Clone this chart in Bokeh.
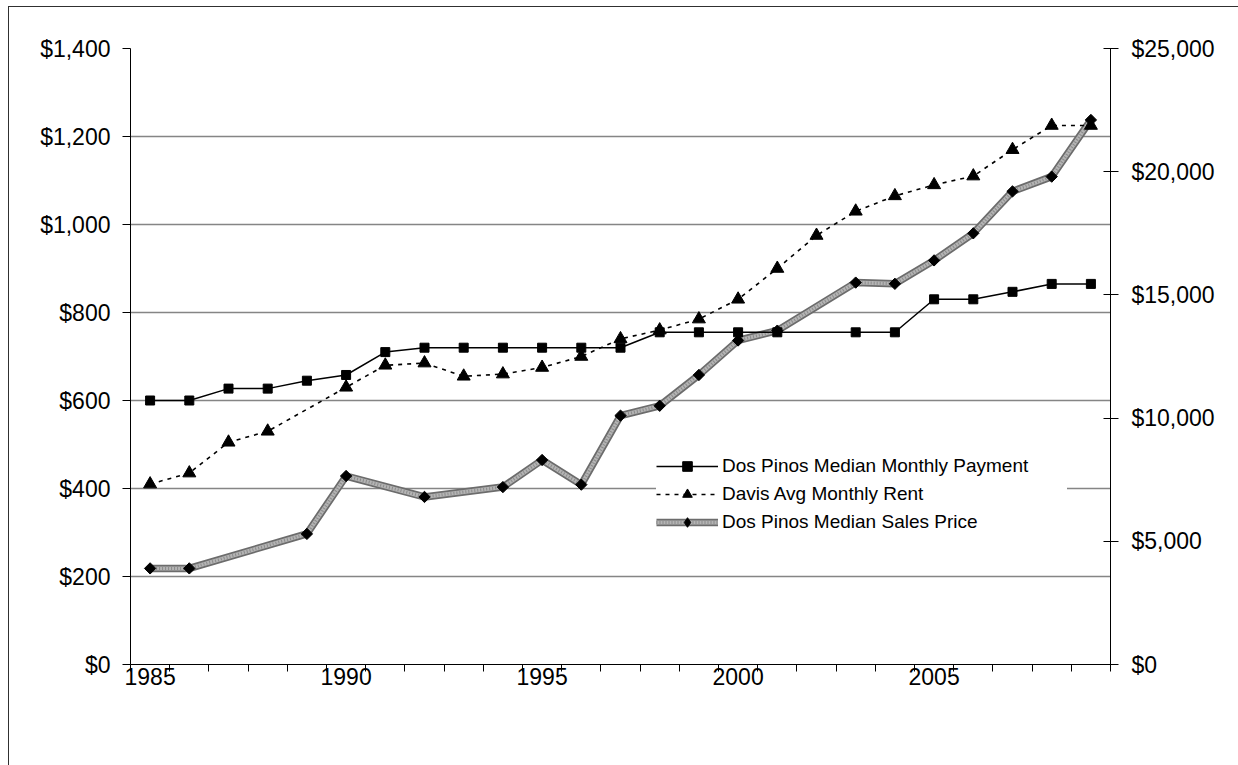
from bokeh.plotting import figure
from bokeh.models import (Range1d, LinearAxis, FixedTicker, NumeralTickFormatter,
                          Legend, LegendItem)
from bokeh.embed import file_html
from bokeh.resources import INLINE
import numpy as np

# Yearly figures, 1985-2009 (None = no value reported that year)
years = list(range(1985, 2010))
monthly_payment = [600, 600, 627, 627, 645, 658, 710, 720, 720, 720, 720, 720, 720,
                   755, 755, 755, 755, None, 755, 755, 830, 830, 847, 865, 865]
avg_rent = [410, 435, 505, 530, None, 630, 680, 685, 655, 660, 675, 700, 740,
            760, 785, 830, 900, 975, 1030, 1065, 1090, 1110, 1170, 1225, 1225]
sales_price = [3900, 3900, None, None, 5300, 7650, None, 6800, None, 7200, 8300, 7300,
               10100, 10500, 11750, 13150, 13550, None, 15500, 15450, 16400, 17500,
               19200, 19800, 22100]

left_ticks = [0, 200, 400, 600, 800, 1000, 1200, 1400]
right_ticks = [0, 5000, 10000, 15000, 20000, 25000]
year_labels = [1985, 1990, 1995, 2000, 2005]

FONT = "Liberation Sans"


def present(xs, ys):
    """Keep only the years that have a value, so the line joins across gaps."""
    pairs = [(x, y) for x, y in zip(xs, ys) if y is not None]
    return [p[0] for p in pairs], [p[1] for p in pairs]


p = figure(width=1238, height=765, output_backend="svg", toolbar_location=None,
           x_range=Range1d(1984.5, 2009.5), y_range=Range1d(0, 1400),
           min_border_left=130, min_border_right=128, min_border_top=48,
           min_border_bottom=101)
p.extra_y_ranges = {"price": Range1d(0, 25000)}
p.background_fill_color = "white"
p.border_fill_alpha = 0
p.outline_line_color = None
# outer chart border: thin dark rule on the left and top, running off the page
p.styles = {
    "background-color": "white",
    "box-shadow": "inset 8px 6px 0 0 white, inset 9px 7px 0 0 #303030",
}

# x axis: year categories, ticks between categories
xa = p.xaxis[0]
xa.ticker = FixedTicker(ticks=year_labels,
                        minor_ticks=[y - 0.5 for y in years] + [years[-1] + 0.5])
xa.major_tick_line_color = None
xa.major_tick_out = 0
xa.major_tick_in = 0
xa.minor_tick_out = 7
xa.minor_tick_in = 0
xa.minor_tick_line_color = "black"
xa.axis_line_color = "black"
xa.major_label_text_font = FONT
xa.major_label_text_font_size = "23px"
xa.major_label_text_color = "black"
xa.major_label_standoff = -4

# left axis: monthly dollars
ya = p.yaxis[0]
ya.ticker = FixedTicker(ticks=left_ticks)
ya.formatter = NumeralTickFormatter(format="$0,0")
ya.major_tick_out = 8
ya.major_tick_in = 0
ya.minor_tick_line_color = None
ya.axis_line_color = "black"
ya.major_tick_line_color = "black"
ya.major_label_text_font = FONT
ya.major_label_text_font_size = "23px"
ya.major_label_text_color = "black"
ya.major_label_standoff = 12

# right axis: sale price dollars
ra = LinearAxis(y_range_name="price", ticker=FixedTicker(ticks=right_ticks),
                formatter=NumeralTickFormatter(format="$0,0"))
ra.major_tick_out = 8
ra.major_tick_in = 7
ra.minor_tick_line_color = None
ra.axis_line_color = "black"
ra.major_tick_line_color = "black"
ra.major_label_text_font = FONT
ra.major_label_text_font_size = "23px"
ra.major_label_text_color = "black"
ra.major_label_standoff = 13
p.add_layout(ra, "right")

p.xgrid.visible = False
p.ygrid.grid_line_color = "#858585"
p.ygrid.grid_line_width = 1.3

# Dos Pinos median sales price: thick textured grey band with diamonds
sx, sy = present(years, sales_price)
s_outer = p.line(sx, sy, y_range_name="price", line_color="#6c6c6c", line_width=7.5)
s_inner = p.line(sx, sy, y_range_name="price", line_color="#b4b4b4", line_width=4)
s_tex = p.line(sx, sy, y_range_name="price", line_color="#8a8a8a", line_width=3,
               line_dash="1 2")
p.scatter(sx, sy, y_range_name="price", marker="square", angle=np.pi / 4,
          size=8, fill_color="black", line_color="black")
# diamond swatch for the legend entry (not drawn on the plot itself)
s_key = p.scatter(sx, sy, y_range_name="price", marker="diamond", size=13,
                  fill_color="black", line_color="black", visible=False)

# Davis average monthly rent: dotted line with triangles
rx, ry = present(years, avg_rent)
r_line = p.line(rx, ry, line_color="black", line_width=1.6, line_dash="4 5")
r_mark = p.scatter(rx, ry, marker="triangle", size=13, fill_color="black",
                   line_color="black")

# Dos Pinos median monthly payment: solid line with squares
mx, my = present(years, monthly_payment)
m_line = p.line(mx, my, line_color="black", line_width=1.5)
m_mark = p.scatter(mx, my, marker="square", size=9, fill_color="black",
                   line_color="black")

legend = Legend(items=[
    LegendItem(label="Dos Pinos Median Monthly Payment", renderers=[m_line, m_mark]),
    LegendItem(label="Davis Avg Monthly Rent", renderers=[r_line, r_mark]),
    LegendItem(label="Dos Pinos Median Sales Price",
               renderers=[s_outer, s_inner, s_tex, s_key]),
], location=(526, 130))
legend.label_text_font = FONT
legend.label_text_font_size = "19px"
legend.label_text_color = "black"
legend.glyph_width = 62
legend.glyph_height = 24
legend.label_height = 24
legend.label_width = 345
legend.label_standoff = 4
legend.spacing = 4
legend.padding = 8
legend.margin = 0
legend.border_line_color = None
legend.background_fill_color = "white"
legend.background_fill_alpha = 1.0
legend.inactive_fill_alpha = 0
p.add_layout(legend, "center")

open("out.html", "w").write(file_html(p, INLINE))
